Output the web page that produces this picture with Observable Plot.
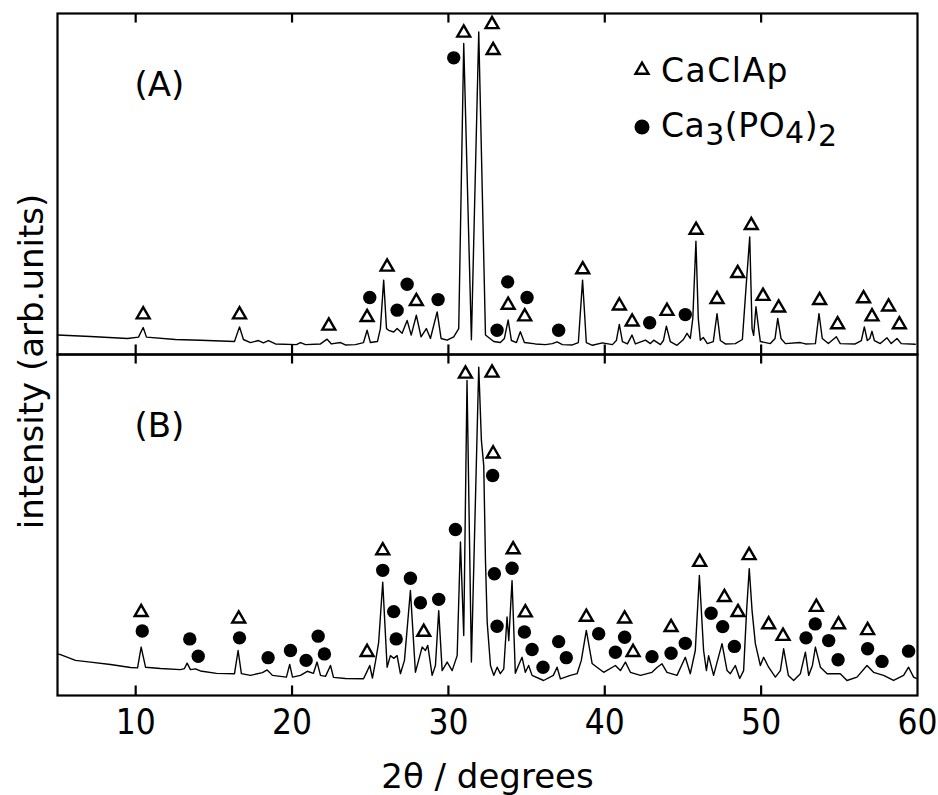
<!DOCTYPE html>
<html>
<head>
<meta charset="utf-8">
<script src="https://cdn.jsdelivr.net/npm/d3@7"></script>
<script src="https://cdn.jsdelivr.net/npm/@observablehq/plot@0.6"></script>
<style>
  html, body { margin: 0; padding: 0; background: #fff; }
  #chart { width: 938px; height: 795px; }
</style>
</head>
<body>
<div id="chart"></div>
<script>
// ---- Data (2θ in degrees, intensity in arbitrary units; each panel 0–100) ----
const panelNames = ["A", "B"];
const panelLabels = ["(A)", "(B)"];

const thetaA = [5.0,7.11,9.48,10.18,10.48,10.69,12.54,14.14,16.32,16.64,16.89,17.34,17.85,18.17,18.49,18.94,20.28,20.54,20.86,21.82,22.24,22.52,23.1,23.41,24.05,24.57,24.8,25.01,25.46,25.65,25.86,26.04,26.18,26.5,26.72,27.04,27.36,27.62,27.95,28.25,28.59,28.85,29.28,29.53,29.92,30.34,30.66,30.98,31.47,31.94,32.37,32.9,33.32,33.58,33.82,34.03,34.35,34.6,34.86,35.56,36.2,36.65,36.95,37.29,37.93,38.31,38.58,38.82,39.21,39.85,40.49,40.74,40.93,41.13,41.45,41.74,41.96,42.6,42.92,43.13,43.56,43.75,43.94,44.19,44.62,45.03,45.26,45.47,45.63,45.83,45.98,46.11,46.3,46.56,46.94,47.18,47.39,47.71,48.35,48.8,49.03,49.27,49.42,49.52,49.67,49.84,49.95,50.59,50.89,51.06,51.27,51.55,52.51,52.83,53.47,53.7,53.91,54.3,54.81,55.06,56.02,56.41,56.6,56.79,56.95,57.09,57.24,57.62,58.05,58.32,58.69,58.96,59.86];
const intensityA = [5.7,5.3,4.7,5.1,7.9,5.1,4.4,4.2,3.8,8.1,4.4,3.5,4.1,3.4,4.1,3.1,2.9,3.5,2.9,3.1,4.5,3.1,3.5,2.8,2.9,3.5,7.1,3.5,3.8,7.6,21.8,7.6,7.1,6.6,7.6,6.2,10.0,5.7,11.5,5.2,7.6,4.7,12.5,4.7,4.2,5.2,7.6,91.2,4.3,94.6,5.7,3.8,3.5,4.7,10.1,4.1,3.5,6.7,3.5,3.1,2.9,3.2,3.7,2.9,2.8,3.5,21.8,3.5,2.7,3.4,2.9,4.1,8.8,3.8,3.1,5.7,3.1,4.2,3.2,4.2,2.9,4.1,8.3,3.8,2.7,4.4,6.2,4.7,10.6,33.2,10.6,4.2,5.0,3.2,3.8,12.0,4.1,3.1,3.2,4.4,19.4,34.5,7.6,5.6,14.0,7.6,3.8,3.2,4.7,10.6,4.7,3.2,3.5,3.1,3.2,12.0,4.7,3.2,5.2,3.2,3.1,4.1,8.1,4.1,4.7,6.8,4.1,3.2,4.9,3.2,4.7,3.2,3.0];

const thetaB = [5.0,5.19,6.15,7.11,8.39,9.67,10.12,10.35,10.63,11.59,12.86,13.12,13.29,13.5,13.82,14.14,15.17,16.32,16.55,16.76,17.34,18.11,18.41,18.75,19.64,19.85,20.03,20.54,20.97,21.37,21.6,21.82,22.14,22.46,22.65,23.41,24.57,24.76,24.97,25.14,25.33,25.54,25.8,26.08,26.29,26.5,26.72,26.93,27.19,27.57,27.89,28.32,28.53,28.68,28.96,29.17,29.38,29.6,29.92,30.24,30.56,30.77,30.98,31.19,31.47,31.94,32.11,32.26,32.37,32.48,32.69,32.9,33.12,33.32,33.54,33.75,33.86,34.07,34.28,34.48,34.71,34.92,35.13,35.35,36.09,36.71,36.95,37.16,37.8,38.23,38.5,38.82,39.19,39.5,39.93,40.68,41.0,41.32,41.64,42.28,43.02,43.34,43.66,43.98,44.62,45.15,45.47,45.79,46.05,46.32,46.5,46.64,46.96,47.5,47.82,48.03,48.35,48.63,48.88,49.07,49.24,49.42,49.63,49.95,50.16,50.48,50.91,51.23,51.44,51.74,52.08,52.51,52.83,53.04,53.28,53.47,53.79,54.22,55.06,55.49,56.13,56.77,57.19,57.83,58.47,59.11,59.43,59.75,59.92];
const intensityB = [12.2,12.0,10.3,9.8,9.1,8.2,8.1,14.2,8.3,7.9,7.6,7.9,9.5,7.6,7.8,7.2,6.5,6.4,13.2,6.4,5.9,6.7,7.5,5.9,5.4,9.1,5.4,5.9,7.1,6.5,9.8,5.9,5.6,8.8,5.3,5.0,4.9,6.7,8.8,5.1,9.8,15.6,33.2,8.3,11.7,10.9,11.7,6.4,10.3,30.8,6.8,14.2,13.2,14.7,5.9,8.8,24.9,7.3,9.8,7.3,11.7,45.0,17.6,92.4,9.8,96.3,74.8,67.4,39.6,21.5,8.8,5.9,8.3,6.4,7.8,23.0,16.1,33.7,6.5,8.8,11.2,6.8,8.8,5.9,4.4,5.9,8.3,4.9,5.9,6.4,10.3,19.1,9.4,8.3,6.8,8.8,7.3,9.8,6.8,5.9,6.8,8.2,9.3,6.8,5.9,11.2,6.4,13.2,35.2,13.2,7.3,11.7,5.9,15.2,7.3,6.4,8.8,5.0,7.3,24.9,37.2,24.9,15.2,8.8,11.2,8.3,5.4,7.3,13.7,5.9,4.4,6.4,12.7,5.9,8.8,14.2,8.3,6.4,6.4,4.4,5.4,8.8,6.8,5.9,4.4,5.9,8.3,5.4,5.0];

// CaClAp (triangles) and Ca3(PO4)2 (circles) peak markers
const triThetaA = [10.48,16.64,22.35,24.8,26.08,27.95,30.98,32.79,32.86,33.82,34.88,38.59,40.93,41.75,43.98,45.84,47.18,48.5,49.37,50.12,51.12,53.74,54.89,56.55,57.09,58.15,58.84];
const triLevelA = [11.7,11.7,8.4,10.9,25.7,15.6,94.3,96.8,89.2,14.5,11.1,24.9,14.3,9.6,12.7,36.5,16.2,23.8,37.9,17.1,13.7,15.9,8.8,16.4,11.1,14.0,8.8];
const dotThetaA = [24.97,26.72,27.36,29.34,30.34,33.11,33.79,35.03,37.05,42.87,45.15];
const dotLevelA = [16.7,13.0,20.6,16.1,87.0,7.1,21.3,16.7,7.1,9.3,11.7];

const triThetaB = [10.35,16.59,24.8,25.8,28.42,31.09,32.79,32.86,34.14,34.92,38.82,41.27,41.81,44.24,46.07,47.65,48.52,49.23,50.48,51.4,53.53,54.95,56.81];
const triLevelB = [24.4,22.5,12.7,42.5,18.6,94.3,94.6,70.9,42.8,24.3,23.0,22.5,12.7,20.0,39.1,28.8,24.4,41.1,20.8,17.4,25.9,20.8,19.1];
const dotThetaB = [10.42,13.46,14.0,16.64,18.47,19.9,20.9,21.67,22.07,25.8,26.5,26.66,27.57,28.21,29.38,30.45,32.83,32.94,33.11,34.07,34.86,35.35,36.05,37.05,37.54,39.61,40.68,41.27,43.02,44.24,45.15,46.8,47.54,48.29,52.87,53.46,54.32,54.92,56.81,57.73,59.43];
const dotLevelB = [18.9,16.6,11.5,16.9,11.1,13.2,10.3,17.4,12.2,36.7,24.6,16.6,34.4,27.2,28.2,48.7,64.5,35.7,20.3,37.3,18.6,13.5,8.3,15.8,11.1,18.1,12.7,17.1,11.4,12.4,15.3,24.1,20.2,14.4,16.9,21.0,16.1,10.5,13.7,10.0,13.0];

const xTickValues = [10, 20, 30, 40, 50];
const xLabelValues = [10, 20, 30, 40, 50, 60];
const yTitle = "intensity (arb.units)";
const xTitle = "2\u03B8 / degrees";

// ---- Build tables for Plot ----
const rows = (panel, xs, ys) => xs.map((x, i) => ({panel, x, y: ys[i]}));
const trace = [...rows("A", thetaA, intensityA), ...rows("B", thetaB, intensityB)];
const triangles = [...rows("A", triThetaA, triLevelA), ...rows("B", triThetaB, triLevelB)];
const circles = [...rows("A", dotThetaA, dotLevelA), ...rows("B", dotThetaB, dotLevelB)];
const labels = panelNames.map((p, i) => ({panel: p, text: panelLabels[i]}));
const tickLen = 2.8;
const tickMarks = xTickValues.flatMap(v => [
  {x: v, y1: 0, y2: tickLen},
  {x: v, y1: 100 - tickLen, y2: 100}
]);

const FONT = "DejaVu Sans";
const TICKFONT = "'Liberation Sans Narrow', 'DejaVu Sans Condensed', 'DejaVu Sans', sans-serif";

const plot = Plot.plot({
  width: 938,
  height: 795,
  marginTop: 13,
  marginRight: 21,
  marginBottom: 100,
  marginLeft: 57,
  style: {fontFamily: FONT, fontSize: "34px", background: "#fff", color: "#000"},
  x: {domain: [5, 60]},
  y: {domain: [0, 100], axis: null},
  fy: {domain: panelNames, axis: null, padding: 0},
  marks: [
    Plot.line(trace, {x: "x", y: "y", fy: "panel", stroke: "#000", strokeWidth: 1.4, strokeLinejoin: "round"}),
    Plot.frame({stroke: "#000", strokeWidth: 2.2}),
    Plot.ruleX(tickMarks, {x: "x", y1: "y1", y2: "y2", stroke: "#000", strokeWidth: 2.2}),
    Plot.dot(circles, {x: "x", y: "y", fy: "panel", r: 6.7, fill: "#000", stroke: "none"}),
    Plot.dot(triangles, {x: "x", y: "y", fy: "panel", symbol: "triangle", r: 4.8, fill: "#fff", stroke: "#000", strokeWidth: 2.4}),
    Plot.text(labels, {fy: "panel", text: "text", frameAnchor: "top-left", dx: 77, dy: 58, fontSize: 34, fill: "#000"}),
    Plot.text([yTitle], {fy: () => "A", text: d => d, frameAnchor: "bottom-left", rotate: -90, textAnchor: "middle", lineAnchor: "bottom", dx: -15, dy: 7, fontSize: 34, fill: "#000"}),
    Plot.axisX(xLabelValues, {anchor: "bottom", tickSize: 0, tickPadding: 14, fontSize: 35, fontFamily: TICKFONT, label: null, fill: "#000"}),
    Plot.axisX({anchor: "bottom", ticks: [], tickSize: 0, label: xTitle, labelAnchor: "center", labelOffset: 92, labelArrow: "none", fontSize: 34, fill: "#000"})
  ]
});

document.getElementById("chart").appendChild(plot);

// ---- Legend (inside panel A, top right) ----
const svg = d3.select(plot);
const lg = svg.append("g")
  .attr("font-family", FONT).attr("font-size", 33).attr("fill", "#000")
  .attr("text-anchor", "start");
lg.append("path")
  .attr("d", d3.symbol(d3.symbolTriangle, 4.8 * 4.8 * Math.PI)())
  .attr("transform", "translate(642,70)")
  .attr("fill", "#fff").attr("stroke", "#000").attr("stroke-width", 2.4);
lg.append("text").attr("x", 661).attr("y", 82).attr("letter-spacing", 1.5).text("CaClAp");
lg.append("circle").attr("cx", 642).attr("cy", 127).attr("r", 7.5).attr("fill", "#000");
const t2 = lg.append("text").attr("x", 661).attr("y", 137).attr("letter-spacing", 0.5);
t2.append("tspan").text("Ca");
t2.append("tspan").attr("dy", 8).attr("font-size", 30).text("3");
t2.append("tspan").attr("dy", -8).text("(PO");
t2.append("tspan").attr("dy", 6).attr("font-size", 30).text("4");
t2.append("tspan").attr("dy", -6).text(")");
t2.append("tspan").attr("dy", 9).attr("font-size", 30).text("2");
</script>
</body>
</html>
